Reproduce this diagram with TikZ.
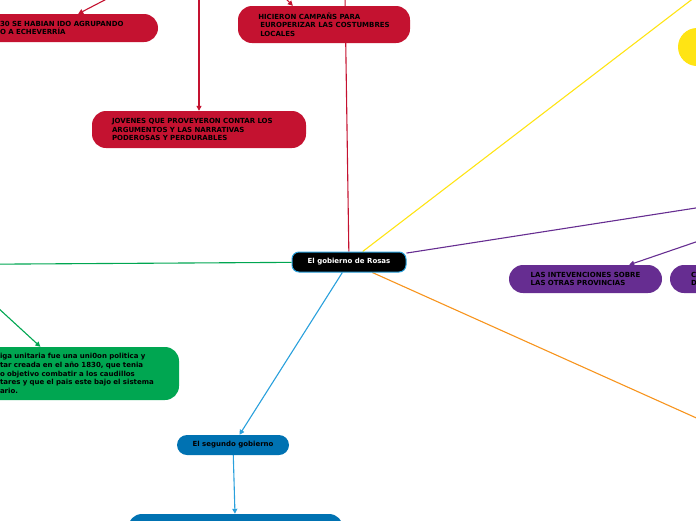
\documentclass[tikz,border=0pt]{standalone}
\usepackage{fontspec}
\setmainfont{DejaVu Sans}
\usepackage{xcolor}
\usetikzlibrary{arrows.meta, positioning, backgrounds}
\definecolor{mapred}{RGB}{196,18,48}
\definecolor{mapyellow}{RGB}{255,228,20}
\definecolor{mappurple}{RGB}{102,45,145}
\definecolor{maporange}{RGB}{247,148,29}
\definecolor{mapgreen}{RGB}{0,166,81}
\definecolor{mapblue}{RGB}{0,114,178}
\definecolor{mapsky}{RGB}{41,160,220}
\tikzset{
  topic/.style={
    rectangle, rounded corners=14pt,
    minimum height=28pt, inner ysep=0pt,
    font=\fontsize{7}{8.7}\selectfont\bfseries,
    align=left, text=black
  },
  redbox/.style    = {topic, fill=mapred, minimum height=37pt},
  purplebox/.style = {topic, fill=mappurple},
  greenbox/.style  = {topic, fill=mapgreen, minimum height=53pt},
  bluebox/.style   = {topic, fill=mapblue, rounded corners=10pt, minimum height=20pt},
  yellowbox/.style = {topic, fill=mapyellow, rounded corners=19pt, minimum height=38pt},
  rootbox/.style   = {topic, fill=black, draw=mapsky, line width=1pt,
                      rounded corners=7pt, minimum width=114pt,
                      minimum height=20pt, text=white, align=center},
  link/.style      = {line width=1.1pt},
  arr/.style       = {link, -{Triangle[length=5pt, width=5pt]}},
}

\begin{document}
\begin{tikzpicture}[x=1pt, y=-1pt]
  \useasboundingbox (0,0) rectangle (696,520);

  % Nodes
  \node[rootbox] (root) at (349,262) {El gobierno de Rosas};

  \node[redbox, minimum height=28pt, text width=140pt, inner xsep=18pt] (red1) at (70,28)
    {30 SE HABIAN IDO AGRUPANDO\\O A ECHEVERRÍA};
  \node[redbox, minimum width=172pt] (red2) at (324,24.5)
    {HICIERON CAMPAÑS PARA\\\hspace*{2pt}EUROPERIZAR LAS COSTUMBRES\\\hspace*{2pt}LOCALES};
  \node[redbox, text width=174pt, inner xsep=20pt] (red3) at (199,129.5)
    {JOVENES QUE PROVEYERON CONTAR LOS\\ARGUMENTOS Y LAS NARRATIVAS\\PODEROSAS Y PERDURABLES};

  \node[yellowbox, minimum width=90pt] (yel) at (723,47) {};

  \node[purplebox, minimum width=153pt] (pur1) at (585.5,279)
    {LAS INTEVENCIONES SOBRE\\LAS OTRAS PROVINCIAS};
  \node[purplebox, text width=30pt, inner xsep=21pt] (pur2) at (706,279) {C\\D};

  \node[greenbox, text width=160pt, inner xsep=19pt] (grn) at (80,373.5)
    {iga unitaria fue una uni0on politica y\\tar creada en el año 1830, que tenia\\o objetivo combatir a los caudillos\\tares y que el pais este bajo el sistema\\ario.};

  \node[bluebox, minimum width=112pt, align=center] (blu1) at (233,445) {El segundo gobierno};
  \node[bluebox, minimum width=215pt, minimum height=36pt, rounded corners=14pt] (blu2) at (235.5,532) {};

  % Off-page ends
  \coordinate (redtop) at (344.5,-40);
  \coordinate (r1) at (124,-10);
  \coordinate (r2) at (277,-10);
  \coordinate (r3) at (199,-10);
  \coordinate (ytop) at (780,-68);
  \coordinate (pr1) at (760,198);
  \coordinate (pr2) at (760,220);
  \coordinate (or1) at (780,455.5);
  \coordinate (g1) at (-60,264.5);
  \coordinate (g2) at (-40,273);

  % Connectors
  \begin{scope}[on background layer]
    \draw[link, mapred] (root) -- (redtop);
    \draw[arr, mapred] (r1) -- (red1.60);
    \draw[arr, mapred] (r2) -- (red2.149);
    \draw[arr, mapred] (r3) -- (red3);
    \draw[link, mapyellow] (root) -- (ytop);
    \draw[link, mappurple] (root) -- (pr1);
    \draw[arr, mappurple] (pr2) -- (pur1.18);
    \draw[link, maporange] (root) -- (or1);
    \draw[link, mapgreen] (root) -- (g1);
    \draw[arr, mapgreen] (g2) -- (grn.146.5);
    \draw[arr, mapsky] (root) -- (blu1);
    \draw[arr, mapsky] (blu1) -- (blu2);
  \end{scope}

\end{tikzpicture}
\end{document}
